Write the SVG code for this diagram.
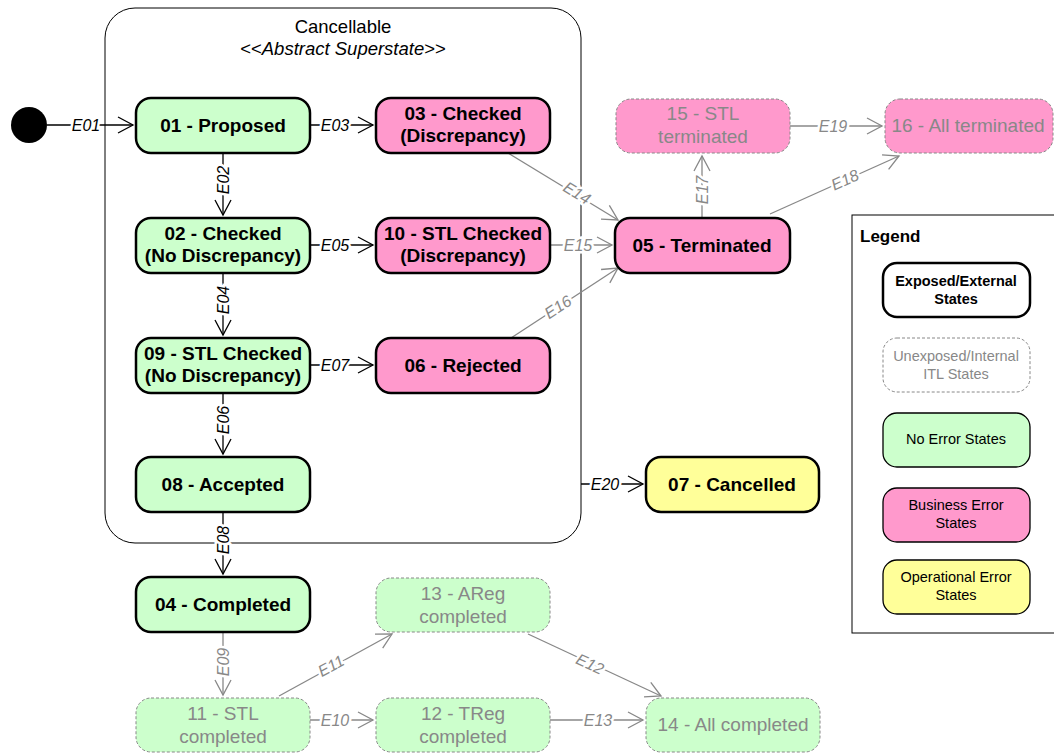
<svg xmlns="http://www.w3.org/2000/svg" width="1054" height="754" viewBox="0 0 1054 754">
<defs>
<style>
.ext{stroke:#000;stroke-width:2.5}
.int{stroke:#888;stroke-width:1;stroke-dasharray:3,2}
.w{fill:#fff}.g{fill:#ccffcc}.p{fill:#ff99cc}.y{fill:#ffff99}
.bt{font-family:"Liberation Sans",Arial,sans-serif;font-size:19px;font-weight:bold;fill:#000;text-anchor:middle}
.it{font-family:"Liberation Sans",Arial,sans-serif;font-size:19px;fill:#888;text-anchor:middle}
.lb{font-family:"Liberation Sans",Arial,sans-serif;font-size:16px;font-style:italic;fill:#000;text-anchor:middle;dominant-baseline:central;stroke:#fff;stroke-width:5;paint-order:stroke}
.lg{fill:#888}
.cb{fill:none;stroke:#000;stroke-width:1.3}
.cg{fill:none;stroke:#888;stroke-width:1.3}
.leg{font-family:"Liberation Sans",Arial,sans-serif;font-size:14.5px;text-anchor:middle;fill:#000}
.legi{fill:#888}
</style>
<marker id="ab" markerUnits="userSpaceOnUse" markerWidth="18" markerHeight="20" refX="16" refY="9" orient="auto"><path d="M1,1 L16,9 L1,17" fill="none" stroke="#000" stroke-width="1.3"/></marker>
<marker id="ag" markerUnits="userSpaceOnUse" markerWidth="18" markerHeight="20" refX="16" refY="9" orient="auto"><path d="M1,1 L16,9 L1,17" fill="none" stroke="#888" stroke-width="1.3"/></marker>
</defs>
<rect width="1054" height="754" fill="#fff"/>

<g id="superstate">
<rect x="105" y="8" width="476" height="535" rx="30" fill="none" stroke="#000" stroke-width="1"/>
<text x="343" y="33" font-family="Liberation Sans, Arial, sans-serif" font-size="18.5" text-anchor="middle">Cancellable</text>
<text x="343" y="55" font-family="Liberation Sans, Arial, sans-serif" font-size="18.5" text-anchor="middle">&lt;&lt;<tspan font-style="italic">Abstract Superstate</tspan>&gt;&gt;</text>
</g>

<g id="connectors">
<line class="cb" x1="47" y1="125" x2="133" y2="125" marker-end="url(#ab)"/>
<text class="lb" x="86" y="125">E01</text>
<line class="cb" x1="310" y1="125" x2="373" y2="125" marker-end="url(#ab)"/>
<text class="lb" x="335" y="125">E03</text>
<line class="cb" x1="223" y1="153" x2="223" y2="215" marker-end="url(#ab)"/>
<text class="lb" transform="translate(223,180) rotate(-90)">E02</text>
<line class="cb" x1="310" y1="245" x2="373" y2="245" marker-end="url(#ab)"/>
<text class="lb" x="335" y="245">E05</text>
<line class="cb" x1="223" y1="273" x2="223" y2="335" marker-end="url(#ab)"/>
<text class="lb" transform="translate(223,300) rotate(-90)">E04</text>
<line class="cb" x1="310" y1="365" x2="373" y2="365" marker-end="url(#ab)"/>
<text class="lb" x="335" y="365">E07</text>
<line class="cb" x1="223" y1="392" x2="223" y2="454" marker-end="url(#ab)"/>
<text class="lb" transform="translate(223,420) rotate(-90)">E06</text>
<line class="cb" x1="223" y1="512" x2="223" y2="574" marker-end="url(#ab)"/>
<text class="lb" transform="translate(223,540) rotate(-90)">E08</text>
<line class="cb" x1="581" y1="484" x2="643" y2="484" marker-end="url(#ab)"/>
<text class="lb" x="605" y="484">E20</text>

<line class="cg" x1="223" y1="632" x2="223" y2="695" marker-end="url(#ag)"/>
<text class="lb lg" transform="translate(223,662) rotate(-90)">E09</text>
<line class="cg" x1="310" y1="720" x2="373" y2="720" marker-end="url(#ag)"/>
<text class="lb lg" x="335" y="720">E10</text>
<line class="cg" x1="279" y1="696" x2="392" y2="634" marker-end="url(#ag)"/>
<text class="lb lg" transform="translate(331,666) rotate(-28.7)">E11</text>
<line class="cg" x1="528" y1="634" x2="661" y2="696" marker-end="url(#ag)"/>
<text class="lb lg" transform="translate(590,664) rotate(25)">E12</text>
<line class="cg" x1="550" y1="720" x2="643" y2="720" marker-end="url(#ag)"/>
<text class="lb lg" x="598" y="720">E13</text>
<line class="cg" x1="508" y1="153" x2="618" y2="220" marker-end="url(#ag)"/>
<text class="lb lg" transform="translate(577,193) rotate(31.3)">E14</text>
<line class="cg" x1="550" y1="245" x2="612" y2="245" marker-end="url(#ag)"/>
<text class="lb lg" x="578" y="245">E15</text>
<line class="cg" x1="511" y1="338" x2="618" y2="268" marker-end="url(#ag)"/>
<text class="lb lg" transform="translate(558,307) rotate(-33.2)">E16</text>
<line class="cg" x1="702" y1="218" x2="702" y2="156" marker-end="url(#ag)"/>
<text class="lb lg" transform="translate(702,190) rotate(-90)">E17</text>
<line class="cg" x1="770" y1="214" x2="899" y2="156" marker-end="url(#ag)"/>
<text class="lb lg" transform="translate(845,180) rotate(-24.2)">E18</text>
<line class="cg" x1="790" y1="126" x2="882" y2="126" marker-end="url(#ag)"/>
<text class="lb lg" x="833" y="126">E19</text>
</g>

<g id="initial"><circle cx="29" cy="125" r="18" fill="#000"/></g>

<g id="s01"><rect class="ext g" x="136" y="98" width="174" height="55" rx="15"/><text class="bt" x="223" y="132">01 - Proposed</text></g>
<g id="s02"><rect class="ext g" x="136" y="218" width="174" height="55" rx="15"/><text class="bt" x="223" y="240">02 - Checked</text><text class="bt" x="223" y="262">(No Discrepancy)</text></g>
<g id="s09"><rect class="ext g" x="136" y="338" width="174" height="55" rx="15"/><text class="bt" x="223" y="360">09 - STL Checked</text><text class="bt" x="223" y="382">(No Discrepancy)</text></g>
<g id="s08"><rect class="ext g" x="136" y="457" width="174" height="55" rx="15"/><text class="bt" x="223" y="491">08 - Accepted</text></g>
<g id="s04"><rect class="ext g" x="136" y="577" width="174" height="55" rx="15"/><text class="bt" x="223" y="611">04 - Completed</text></g>
<g id="s03"><rect class="ext p" x="376" y="98" width="174" height="55" rx="15"/><text class="bt" x="463" y="120">03 - Checked</text><text class="bt" x="463" y="142">(Discrepancy)</text></g>
<g id="s10"><rect class="ext p" x="376" y="218" width="174" height="55" rx="15"/><text class="bt" x="463" y="240">10 - STL Checked</text><text class="bt" x="463" y="262">(Discrepancy)</text></g>
<g id="s06"><rect class="ext p" x="376" y="338" width="174" height="55" rx="15"/><text class="bt" x="463" y="372">06 - Rejected</text></g>
<g id="s05"><rect class="ext p" x="615" y="218" width="175" height="55" rx="15"/><text class="bt" x="702" y="252">05 - Terminated</text></g>
<g id="s07"><rect class="ext y" x="646" y="457" width="173" height="55" rx="15"/><text class="bt" x="732" y="491">07 - Cancelled</text></g>
<g id="s15"><rect class="int p" x="616" y="99" width="174" height="54" rx="15"/><text class="it" x="703" y="120">15 - STL</text><text class="it" x="703" y="143">terminated</text></g>
<g id="s16"><rect class="int p" x="885" y="99" width="168" height="54" rx="15"/><text class="it" x="968" y="132">16 - All terminated</text></g>
<g id="s13"><rect class="int g" x="376" y="578" width="174" height="54" rx="15"/><text class="it" x="463" y="600">13 - AReg</text><text class="it" x="463" y="623">completed</text></g>
<g id="s11"><rect class="int g" x="136" y="698" width="174" height="54" rx="15"/><text class="it" x="223" y="720">11 - STL</text><text class="it" x="223" y="743">completed</text></g>
<g id="s12"><rect class="int g" x="376" y="698" width="174" height="54" rx="15"/><text class="it" x="463" y="720">12 - TReg</text><text class="it" x="463" y="743">completed</text></g>
<g id="s14"><rect class="int g" x="646" y="698" width="174" height="54" rx="15"/><text class="it" x="733" y="731">14 - All completed</text></g>

<g id="legend">
<rect x="852" y="215" width="210" height="418" fill="#fff" stroke="#000" stroke-width="1"/>
<text x="860" y="242" font-family="Liberation Sans, Arial, sans-serif" font-size="17" font-weight="bold">Legend</text>
<rect class="ext w" x="883" y="263" width="147" height="54" rx="14"/>
<text class="leg" x="956" y="286" font-weight="bold">Exposed/External</text><text class="leg" x="956" y="304" font-weight="bold">States</text>
<rect class="int w" x="883" y="338" width="147" height="54" rx="14"/>
<text class="leg legi" x="956" y="361">Unexposed/Internal</text><text class="leg legi" x="956" y="379">ITL States</text>
<rect class="g" x="883" y="413" width="147" height="54" rx="14" stroke="#000" stroke-width="1.3"/>
<text class="leg" x="956" y="444">No Error States</text>
<rect class="p" x="883" y="488" width="147" height="54" rx="14" stroke="#000" stroke-width="1.3"/>
<text class="leg" x="956" y="510">Business Error</text><text class="leg" x="956" y="528">States</text>
<rect class="y" x="883" y="560" width="147" height="54" rx="14" stroke="#000" stroke-width="1.3"/>
<text class="leg" x="956" y="582">Operational Error</text><text class="leg" x="956" y="600">States</text>
</g>
</svg>
